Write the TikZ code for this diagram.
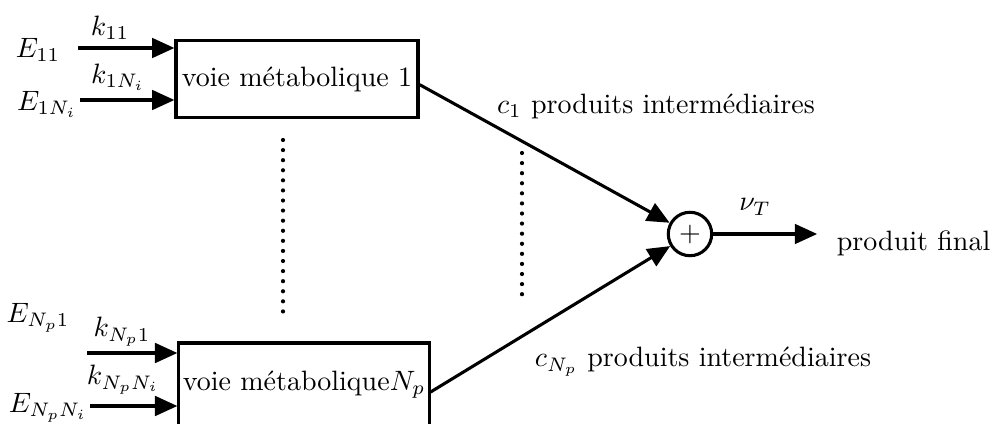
\documentclass[tikz,border=0pt]{standalone}
\usepackage{amsmath}
\usetikzlibrary{arrows.meta,positioning}
\tikzset{voie/.style={draw,line width=1.1pt,inner sep=1pt}}
\tikzset{fl/.style={line width=1.1pt,-{Triangle[length=8pt,width=7pt]}}}
\tikzset{etc/.style={line width=1.5pt,line cap=round,dash pattern=on 0pt off 3.6pt}}

\begin{document}
\begin{tikzpicture}[x=0.357pt,y=-0.357pt]
  \useasboundingbox (0,0) rectangle (992,424);
  \node[voie,minimum width=86.4pt,minimum height=27.8pt] (voie1) at (297,79) {voie m\'etabolique 1};
  \node[voie,minimum width=89.3pt,minimum height=30pt] (voieN) at (304,385) {voie m\'etabolique$N_p$};
  \node[draw,circle,line width=1.1pt,minimum size=15.5pt,inner sep=0pt] (sum) at (690,234) {$+$};
  \node[anchor=west] (final) at (827,243) {produit final};
  % entrees
  \coordinate (e11) at (78,48);
  \coordinate (e1n) at (80,100);
  \coordinate (eN1) at (87,353);
  \coordinate (eNn) at (90,406);
  \node (E11) at (38,50) {$E_{11}$};
  \node (E1n) at (47,104) {$E_{1N_i}$};
  \node (EN1) at (38,318) {$E_{N_p1}$};
  \node (ENn) at (48,408) {$E_{N_pN_i}$};
  \node (k11) at (110,28) {$k_{11}$};
  \node (k1n) at (118,77) {$k_{1N_i}$};
  \node (kN1) at (122,332) {$k_{N_p1}$};
  \node (kNn) at (123,380) {$k_{N_pN_i}$};
  \draw[fl] (e11) -- (e11 -| voie1.west);
  \draw[fl] (e1n) -- (e1n -| voie1.west);
  \draw[fl] (eN1) -- (eN1 -| voieN.west);
  \draw[fl] (eNn) -- (eNn -| voieN.west);
  % sorties
  \draw[fl] ([yshift=-2pt]voie1.east) -- (sum);
  \draw[fl] ([yshift=-2.5pt]voieN.east) -- (sum);
  \draw[fl,shorten >=3.5pt] (sum) -- (sum -| final.west);
  \node (c1) at (656,106) {$c_1$ produits interm\'ediaires};
  \node (cN) at (703,362) {$c_{N_p}$ produits interm\'ediaires};
  \node (nu) at (755,207) {$\nu_T$};
  \draw[etc] (283,140) -- (283,313);
  \draw[etc] (522,153) -- (522,298);
\end{tikzpicture}
\end{document}
